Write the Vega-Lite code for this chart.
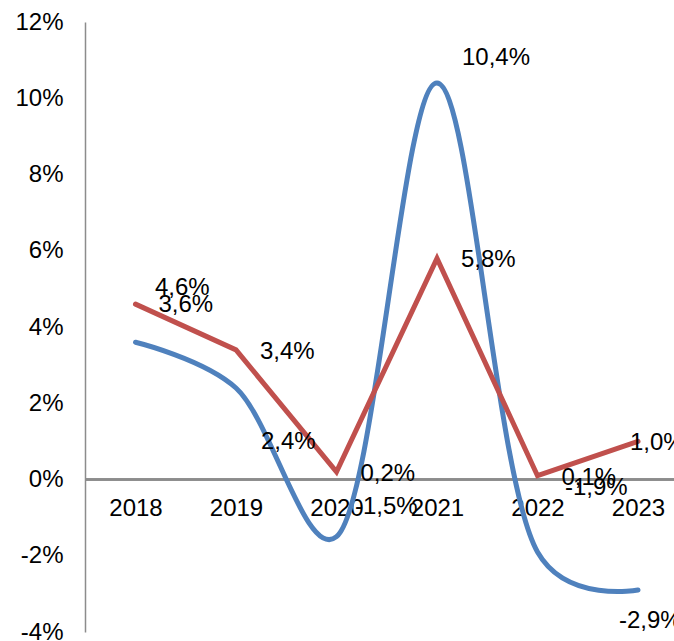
{
  "$schema": "https://vega.github.io/schema/vega-lite/v6.json",
  "width": 589,
  "height": 610,
  "autosize": {"type": "none"},
  "padding": {"left": 85, "top": 22, "right": 0, "bottom": 9},
  "config": {
    "view": {"stroke": null},
    "font": "Liberation Sans",
    "locale": {"number": {"decimal": ",", "thousands": ".", "grouping": [3], "currency": ["", " €"], "minus": "-", "percent": "%"}},
    "text": {"font": "Liberation Sans", "fontSize": 24, "color": "#000000"}
  },
  "data": {"values": [
    {"year": "2018", "series": "Série 1", "value": 0.036},
    {"year": "2019", "series": "Série 1", "value": 0.024},
    {"year": "2020", "series": "Série 1", "value": -0.015},
    {"year": "2021", "series": "Série 1", "value": 0.104},
    {"year": "2022", "series": "Série 1", "value": -0.019},
    {"year": "2023", "series": "Série 1", "value": -0.029},
    {"year": "2018", "series": "Série 2", "value": 0.046},
    {"year": "2019", "series": "Série 2", "value": 0.034},
    {"year": "2020", "series": "Série 2", "value": 0.002},
    {"year": "2021", "series": "Série 2", "value": 0.058},
    {"year": "2022", "series": "Série 2", "value": 0.001},
    {"year": "2023", "series": "Série 2", "value": 0.010}
  ]},
  "encoding": {
    "x": {
      "field": "year", "type": "ordinal",
      "scale": {"type": "point", "range": [50.5, 553], "padding": 0},
      "axis": {
        "title": null, "labelAngle": 0, "ticks": false, "grid": false,
        "domain": false,
        "offset": -152.5, "labelPadding": 17, "labelFontSize": 24,
        "labelFont": "Liberation Sans", "labelColor": "#000000"
      }
    },
    "y": {
      "field": "value", "type": "quantitative",
      "scale": {"domain": [-0.04, 0.12], "nice": false, "zero": false},
      "axis": {
        "title": null, "format": ".0%", "values": [-0.04, -0.02, 0, 0.02, 0.04, 0.06, 0.08, 0.1, 0.12],
        "ticks": false, "grid": false, "domainColor": "#8c8c8c", "domainWidth": 1.5,
        "labelPadding": 22, "labelFontSize": 24, "labelFont": "Liberation Sans", "labelColor": "#000000"
      }
    }
  },
  "layer": [
    {
      "mark": {"type": "rule", "color": "#8c8c8c", "strokeWidth": 1.5},
      "encoding": {"x": null, "y": {"datum": 0, "type": "quantitative"}}
    },
    {
      "transform": [{"filter": "datum.series === 'Série 1'"}],
      "mark": {"type": "line", "interpolate": "catmull-rom", "tension": 0.25, "strokeWidth": 5, "color": "#4F81BD", "strokeCap": "round"}
    },
    {
      "transform": [{"filter": "datum.series === 'Série 2'"}],
      "mark": {"type": "line", "strokeWidth": 5, "color": "#C0504D", "strokeCap": "round", "strokeJoin": "miter"}
    },
    {
      "transform": [{"filter": "datum.series === 'Série 2' && (datum.year === '2019' || datum.year === '2020' || datum.year === '2021' || datum.year === '2022')"}],
      "mark": {"type": "text", "align": "left", "baseline": "middle", "dx": 24, "dy": 2},
      "encoding": {"text": {"field": "value", "type": "quantitative", "format": ".1%"}}
    },
    {
      "transform": [{"filter": "datum.series === 'Série 2' && datum.year === '2018'"}],
      "mark": {"type": "text", "align": "left", "baseline": "middle", "dx": 19.5, "dy": -16},
      "encoding": {"text": {"field": "value", "type": "quantitative", "format": ".1%"}}
    },
    {
      "transform": [{"filter": "datum.series === 'Série 2' && datum.year === '2023'"}],
      "mark": {"type": "text", "align": "left", "baseline": "middle", "dx": -8, "dy": 2},
      "encoding": {"text": {"field": "value", "type": "quantitative", "format": ".1%"}}
    },
    {
      "transform": [{"filter": "datum.series === 'Série 1' && datum.year === '2018'"}],
      "mark": {"type": "text", "align": "left", "baseline": "middle", "dx": 23, "dy": -37},
      "encoding": {"text": {"field": "value", "type": "quantitative", "format": ".1%"}}
    },
    {
      "transform": [{"filter": "datum.series === 'Série 1' && datum.year === '2019'"}],
      "mark": {"type": "text", "align": "left", "baseline": "middle", "dx": 25, "dy": 54},
      "encoding": {"text": {"field": "value", "type": "quantitative", "format": ".1%"}}
    },
    {
      "transform": [{"filter": "datum.series === 'Série 1' && datum.year === '2020'"}],
      "mark": {"type": "text", "align": "left", "baseline": "middle", "dx": 18.5, "dy": -30},
      "encoding": {"text": {"field": "value", "type": "quantitative", "format": ".1%"}}
    },
    {
      "transform": [{"filter": "datum.series === 'Série 1' && datum.year === '2021'"}],
      "mark": {"type": "text", "align": "left", "baseline": "middle", "dx": 25, "dy": -25.5},
      "encoding": {"text": {"field": "value", "type": "quantitative", "format": ".1%"}}
    },
    {
      "transform": [{"filter": "datum.series === 'Série 1' && datum.year === '2022'"}],
      "mark": {"type": "text", "align": "left", "baseline": "middle", "dx": 27.5, "dy": -64},
      "encoding": {"text": {"field": "value", "type": "quantitative", "format": ".1%"}}
    },
    {
      "transform": [{"filter": "datum.series === 'Série 1' && datum.year === '2023'"}],
      "mark": {"type": "text", "align": "left", "baseline": "middle", "dx": -19, "dy": 31},
      "encoding": {"text": {"field": "value", "type": "quantitative", "format": ".1%"}}
    }
  ]
}
